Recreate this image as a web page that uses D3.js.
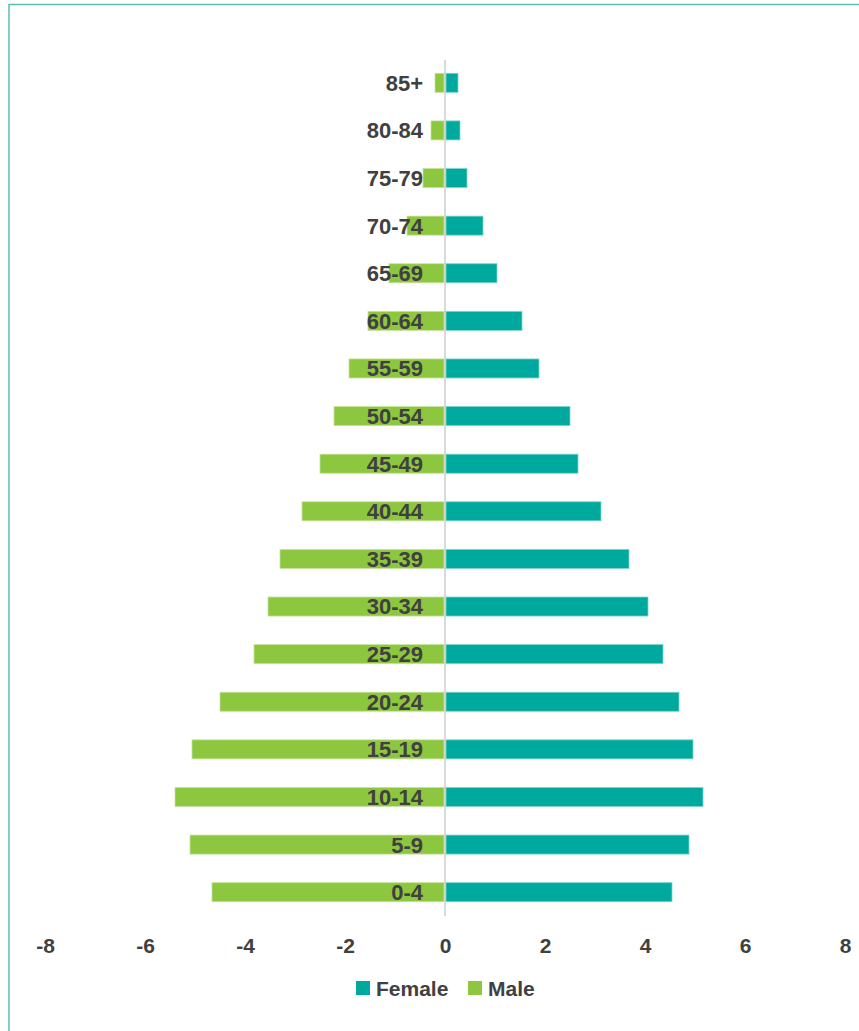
<!DOCTYPE html>
<html><head><meta charset="utf-8">
<script src="https://cdn.jsdelivr.net/npm/d3@7/dist/d3.min.js"></script>
<style>body{margin:0;background:#fff}svg{display:block}</style>
</head><body>
<script>
const ageGroups = ["85+","80-84","75-79","70-74","65-69","60-64","55-59","50-54","45-49","40-44","35-39","30-34","25-29","20-24","15-19","10-14","5-9","0-4"];
const female = [0.26,0.30,0.44,0.76,1.04,1.54,1.88,2.50,2.66,3.12,3.68,4.06,4.36,4.68,4.96,5.16,4.88,4.54];
const male = [-0.20,-0.28,-0.44,-0.76,-1.12,-1.54,-1.92,-2.22,-2.50,-2.86,-3.30,-3.54,-3.82,-4.50,-5.06,-5.40,-5.10,-4.66];
const xTicks = [-8,-6,-4,-2,0,2,4,6,8];
const seriesNames = ["Female","Male"];
const colors = {Female:"#00a99d", Male:"#8dc63f"};

const W = 859, H = 1031;
const FONT = "Liberation Sans, Arial, sans-serif";
const svg = d3.select("body").append("svg").attr("width", W).attr("height", H);

// frame
svg.append("rect").attr("x", 9).attr("y", 4.5).attr("width", 900).attr("height", 1100)
  .attr("fill", "none").attr("stroke", "#5bbdb4").attr("stroke-width", 1.5);

const x = d3.scaleLinear().domain([-8, 8]).range([45, 845]);
const y = d3.scaleBand().domain(ageGroups).range([59, 916]).paddingInner(0.6).paddingOuter(0.3);

// zero line
svg.append("line").attr("x1", x(0)).attr("x2", x(0)).attr("y1", 60).attr("y2", 916)
  .attr("stroke", "#d9d9d9").attr("stroke-width", 2);

const rows = ageGroups.map((g, i) => ({g, f: female[i], m: male[i]}));

svg.append("g").selectAll("rect").data(rows).join("rect")
  .attr("x", d => x(d.m)).attr("width", d => x(0) - 1 - x(d.m))
  .attr("y", d => y(d.g)).attr("height", y.bandwidth())
  .attr("fill", colors.Male).attr("stroke", "#c6e39f").attr("stroke-width", 0.8);

svg.append("g").selectAll("rect").data(rows).join("rect")
  .attr("x", x(0) + 1).attr("width", d => x(d.f) - x(0) - 1)
  .attr("y", d => y(d.g)).attr("height", y.bandwidth())
  .attr("fill", colors.Female).attr("stroke", "#7fd4ce").attr("stroke-width", 0.8);

// category labels
svg.append("g").selectAll("text").data(rows).join("text")
  .attr("x", 423).attr("y", d => y(d.g) + y.bandwidth() / 2)
  .attr("dy", "0.36em").attr("text-anchor", "end")
  .attr("font-family", FONT).attr("font-weight", "bold")
  .attr("font-size", 22).attr("fill", "#404040").text(d => d.g);

// x axis
const axis = d3.axisBottom(x).tickValues(xTicks).tickSize(0).tickPadding(0).tickFormat(d => String(d));
const ag = svg.append("g").attr("transform", "translate(0,938)").call(axis);
ag.select(".domain").remove();
ag.selectAll("text").attr("font-family", FONT)
  .attr("font-weight", "bold").attr("font-size", 21).attr("fill", "#404040").attr("y", 0).attr("dy", "0.71em");

// legend
const legendItems = [{name: "Female", sx: 356, tx: 376}, {name: "Male", sx: 468, tx: 488}];
const lg = svg.append("g");
legendItems.forEach(it => {
  lg.append("rect").attr("x", it.sx).attr("y", 981).attr("width", 14).attr("height", 14).attr("fill", colors[it.name]);
  lg.append("text").attr("x", it.tx).attr("y", 996)
    .attr("font-family", FONT).attr("font-weight", "bold")
    .attr("font-size", 21).attr("fill", "#404040").text(it.name);
});
</script>
</body></html>
